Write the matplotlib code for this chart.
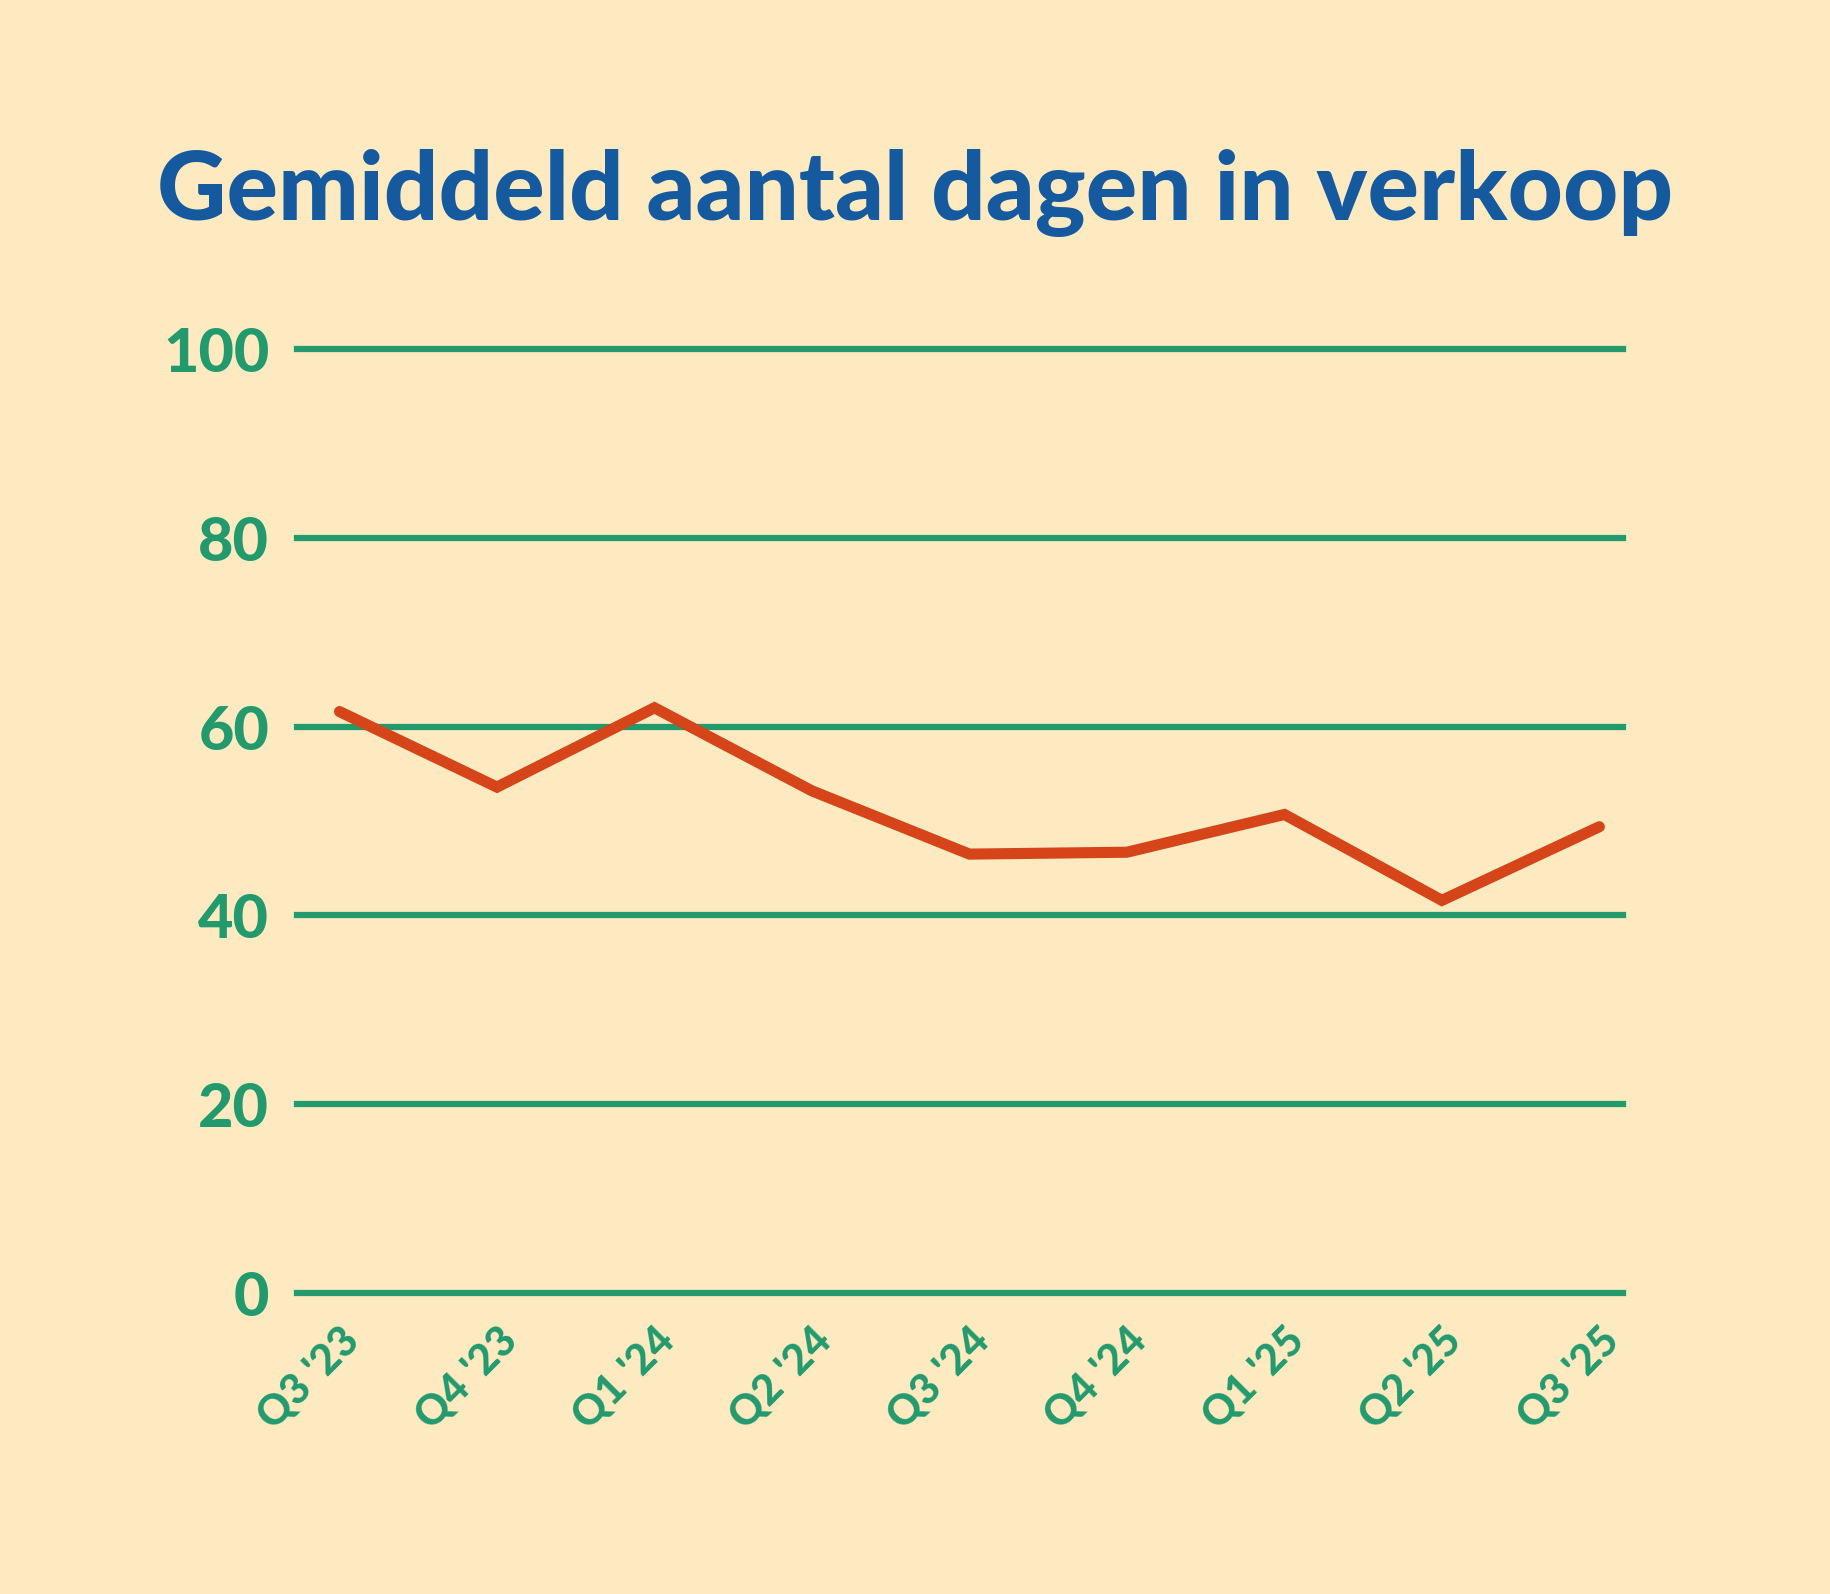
import matplotlib.pyplot as plt

quarters = ["Q3 '23", "Q4 '23", "Q1 '24", "Q2 '24", "Q3 '24",
            "Q4 '24", "Q1 '25", "Q2 '25", "Q3 '25"]
days = [61.6, 53.6, 62.0, 53.2, 46.5, 46.7, 50.7, 41.6, 49.4]
yticks = [0, 20, 40, 60, 80, 100]

bg = "#FEEAC0"
green = "#229A6E"
red = "#D6441A"
blue = "#155A9E"

plt.rcParams["font.family"] = ["Lato", "DejaVu Sans"]

fig = plt.figure(figsize=(18.31, 15.94), dpi=100, facecolor=bg)
ax = fig.add_axes([0.1622, 0.1888, 0.7242, 0.5922])
ax.set_facecolor(bg)

for v in yticks:
    ax.axhline(v, color=green, lw=4.5, zorder=1, clip_on=False)

x = list(range(len(days)))
ax.plot(x, days, color=red, lw=8, solid_capstyle="round",
        solid_joinstyle="miter", zorder=3)

ax.set_xlim(-0.27, 8.15)
ax.set_ylim(0, 100)
ax.set_yticks(yticks)
ax.set_yticklabels([str(v) for v in yticks], fontsize=44,
                   fontweight="black", color=green)
ax.set_xticks(x)
ax.set_xticklabels(quarters, rotation=45, ha="right", rotation_mode="anchor",
                   fontsize=30, fontweight="black", color=green)
ax.tick_params(axis="y", length=0, pad=20)
ax.tick_params(axis="x", length=0, pad=20)
for s in ax.spines.values():
    s.set_visible(False)

fig.text(0.5, 0.879, "Gemiddeld aantal dagen in verkoop", ha="center",
         va="center", fontsize=69, fontweight="black", color=blue)

fig.savefig("out.png", dpi=100, facecolor=bg)
